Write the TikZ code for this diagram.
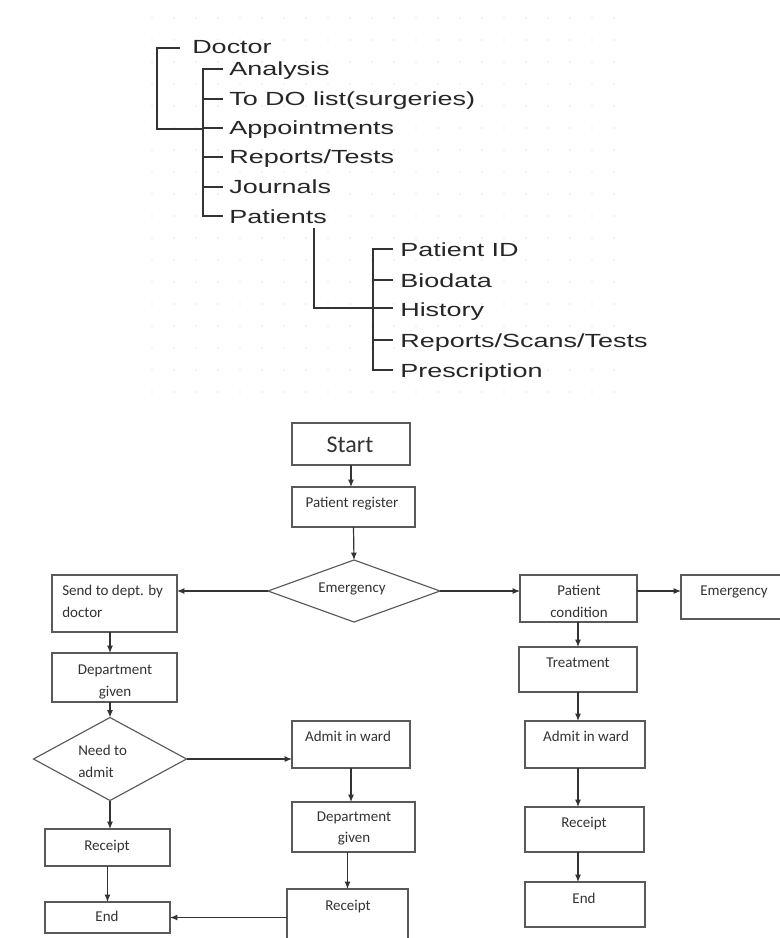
\documentclass[tikz,border=0pt]{standalone}
\usepackage{fontspec}
\setmainfont{Carlito}
\newfontfamily\treefont{Liberation Sans}[FakeStretch=1.42]
\usetikzlibrary{shapes.geometric,arrows.meta}
\newcommand\mybox[5]{\node[box, minimum width={(#4-#2)*0.75pt}, minimum height={(#5-#3)*0.75pt}] (#1) at ({(#2+#4)/2},{(#3+#5)/2}) {};}
\begin{document}
\begin{tikzpicture}[x=0.75pt,y=-0.75pt,
 box/.style={draw=black!65, line width=0.85pt, inner sep=0pt, outer sep=0pt, rectangle},
 dia/.style={diamond, draw=black!65, line width=0.85pt, inner sep=0pt, outer sep=0pt},
 ftxt/.style={font=\fontsize{11.25}{13}\selectfont, text=black!80, inner sep=0pt, text height=7.2pt, text depth=0pt},
 ttxt/.style={font=\treefont\fontsize{14.25}{16}\selectfont, text=black!85, inner sep=0pt, anchor=base west},
 arr/.style={draw=black!80, line width=0.9pt, -{Latex[length=5.5pt,width=4.5pt]}},
 tline/.style={draw=black!80, line width=1.5pt},
 gdot/.style={fill=black!9},
]
\useasboundingbox (0,0) rectangle (779,938);
\fill[white] (0,0) rectangle (779,938);

% faint dotted grid of the top screenshot
\foreach \i in {0,...,21}{\foreach \j in {0,...,17}{\fill[gdot] (152+22*\i,18+22*\j) circle (0.9);}}

% ---------- tree ----------
\node[ttxt] (tDoctor) at (192,54) {Doctor};
\node[ttxt] (tAnalysis) at (229,76) {Analysis};
\node[ttxt] (tTodo) at (229,106) {To DO list(surgeries)};
\node[ttxt] (tAppt) at (229,135) {Appointments};
\node[ttxt] (tRep) at (229,164) {Reports/Tests};
\node[ttxt] (tJour) at (229,194) {Journals};
\node[ttxt] (tPat) at (229,223) {Patients};

\draw[tline] (180,48) -- (157,48) -- (157,129) -- (203,129);
\draw[tline] (223,69) -- (203,69) -- (203,216) -- (223,216);
\foreach \yy in {99,128,157,187}{\draw[tline] (203,\yy) -- (223,\yy);}

\node[ttxt] (tPid) at (400,256) {Patient ID};
\node[ttxt] (tBio) at (400,287) {Biodata};
\node[ttxt] (tHis) at (400,316) {History};
\node[ttxt] (tRst) at (400,347) {Reports/Scans/Tests};
\node[ttxt] (tPre) at (400,377) {Prescription};

\draw[tline] (314,228) -- (314,308) -- (373,308);
\draw[tline] (393,249) -- (373,249) -- (373,370) -- (393,370);
\foreach \yy in {280,308,340}{\draw[tline] (373,\yy) -- (393,\yy);}

% ---------- flowchart ----------
\mybox{start}{292}{423}{410}{465}
\node[ftxt, font=\fontsize{18}{20}\selectfont, text height=11.5pt] (tstart) at (350,445) {Start};
\mybox{reg}{292}{487}{415}{527}
\node[ftxt] (treg) at (352,503) {Patient register};

\node[dia, minimum width=129pt, minimum height=46.5pt] (emd) at (354,591) {};
\node[ftxt] (temd) at (352,588) {Emergency};

\mybox{send}{52}{575}{177}{632}
\node[ftxt, anchor=west] (tsend1) at (62,591) {Send to dept. by};
\node[ftxt, anchor=west] (tsend2) at (62,613) {doctor};

\mybox{pc}{520}{575}{637}{622}
\node[ftxt] (tpc1) at (579,591) {Patient};
\node[ftxt] (tpc2) at (579,613) {condition};

\mybox{emr}{681}{575}{790}{619}
\node[ftxt] (temr) at (734,591) {Emergency};

\mybox{dg1}{52}{653}{177}{702}
\node[ftxt] (tdg1a) at (115,670) {Department};
\node[ftxt] (tdg1b) at (115,692) {given};

\node[dia, minimum width=114.75pt, minimum height=62.25pt] (nd) at (110,759) {};
\node[ftxt, anchor=west] (tnd1) at (78,751) {Need to};
\node[ftxt, anchor=west] (tnd2) at (78,773) {admit};

\mybox{aw1}{292}{721}{410}{768}
\node[ftxt] (taw1) at (348,737) {Admit in ward};

\mybox{tr}{519}{647}{637}{692}
\node[ftxt] (ttr) at (578,663) {Treatment};

\mybox{aw2}{525}{721}{645}{768}
\node[ftxt] (taw2) at (586,737) {Admit in ward};

\mybox{rc1}{45}{829}{170}{866}
\node[ftxt] (trc1) at (107,846) {Receipt};

\mybox{en1}{45}{902}{170}{933}
\node[ftxt] (ten1) at (107,917) {End};

\mybox{dg2}{292}{802}{415}{852}
\node[ftxt] (tdg2a) at (354,817) {Department};
\node[ftxt] (tdg2b) at (354,838) {given};

\mybox{rc2}{287}{889}{408}{945}
\node[ftxt] (trc2) at (348,906) {Receipt};

\mybox{rc3}{525}{807}{644}{852}
\node[ftxt] (trc3) at (584,823) {Receipt};

\mybox{en2}{525}{882}{645}{927}
\node[ftxt] (ten2) at (584,899) {End};

% connectors
\draw[arr] (start.south) -- (start.south |- reg.north);
\draw[arr] (reg.south) -- (emd.north);
\draw[arr] (emd.west) -- (emd.west -| send.east);
\draw[arr] (emd.east) -- (emd.east -| pc.west);
\draw[arr] (pc.east |- emd) -- (emr.west |- emd);
\draw[arr] (nd |- send.south) -- (nd |- dg1.north);
\draw[arr] (nd |- dg1.south) -- (nd.north);
\draw[arr] (nd.east) -- (nd.east -| aw1.west);
\draw[arr] (nd.south) -- (nd.south |- rc1.north);
\draw[arr] (rc1.south) -- (en1.north);
\draw[arr] (aw1.south) -- (aw1.south |- dg2.north);
\draw[arr] (rc2.north |- dg2.south) -- (rc2.north);
\draw[arr] (en1.east -| rc2.west) -- (en1.east);
\draw[arr] (tr.north |- pc.south) -- (tr.north);
\draw[arr] (tr.south) -- (tr.south |- aw2.north);
\draw[arr] (tr.south |- aw2.south) -- (tr.south |- rc3.north);
\draw[arr] (tr.south |- rc3.south) -- (tr.south |- en2.north);
\end{tikzpicture}
\end{document}
